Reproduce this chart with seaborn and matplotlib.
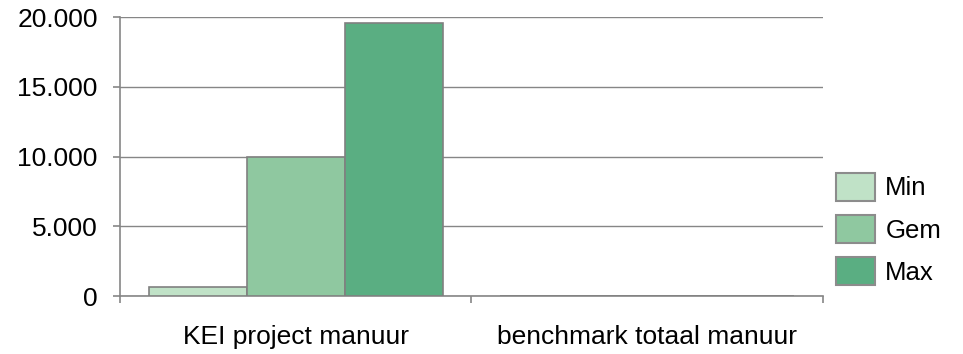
import matplotlib
matplotlib.use("Agg")
import matplotlib.pyplot as plt
from matplotlib.patches import Patch
from matplotlib.ticker import FuncFormatter
import pandas as pd
import seaborn as sns

# Data
categorieen = ["KEI project manuur", "benchmark totaal manuur"]
series = ["Min", "Gem", "Max"]
min_waarden = [650, 0]
gem_waarden = [10000, 0]
max_waarden = [19570, 0]
kleuren = ["#c0e2c7", "#8fc8a0", "#5aae82"]

rows = []
for i, cat in enumerate(categorieen):
    for s, vals in zip(series, [min_waarden, gem_waarden, max_waarden]):
        rows.append({"categorie": cat, "serie": s, "waarde": vals[i]})
df = pd.DataFrame(rows)

sns.set_theme(style="white")
plt.rcParams["font.family"] = ["Liberation Sans", "DejaVu Sans"]

fig = plt.figure(figsize=(9.63, 3.54), dpi=100)
ax = fig.add_axes([0.1246, 0.1638, 0.73, 0.788])

grijs = "#868686"
sns.barplot(data=df, x="categorie", y="waarde", hue="serie", palette=kleuren,
            order=categorieen, hue_order=series, saturation=1,
            width=0.836, gap=0, edgecolor="#808080", linewidth=1.2,
            errorbar=None, ax=ax, legend=False, zorder=3)

ax.set_ylim(0, 20000)
ax.set_xlim(-0.5, 1.5)
ax.set_yticks([0, 5000, 10000, 15000, 20000])
ax.yaxis.set_major_formatter(FuncFormatter(lambda v, p: f"{v:,.0f}".replace(",", ".")))
ax.yaxis.grid(True, color=grijs, linewidth=1.0)
ax.set_axisbelow(True)
ax.set_xlabel("")
ax.set_ylabel("")

for side in ["top", "right"]:
    ax.spines[side].set_visible(False)
for side in ["left", "bottom"]:
    ax.spines[side].set_color(grijs)
    ax.spines[side].set_linewidth(1.2)

ax.tick_params(axis="y", which="major", direction="out", length=5, width=1.2,
               color=grijs, pad=11, labelsize=19, labelcolor="black", left=True)
ax.tick_params(axis="x", which="major", length=0, pad=21, labelsize=19, labelcolor="black")
ax.set_xticks([-0.5, 0.5, 1.5], minor=True)
ax.tick_params(axis="x", which="minor", direction="out", length=5, width=1.2,
               color=grijs, bottom=True)

handles = [Patch(facecolor=c, edgecolor="#8c8c8c", linewidth=1.5) for c in kleuren]
fig.legend(handles, series, loc="center left", bbox_to_anchor=(836 / 963, 1 - 229 / 354),
           frameon=False, fontsize=18.5, labelcolor="black", handlelength=1.5,
           handleheight=1.3, handletextpad=0.42, labelspacing=0.55,
           borderpad=0, borderaxespad=0)

fig.savefig("out.png", dpi=100)
